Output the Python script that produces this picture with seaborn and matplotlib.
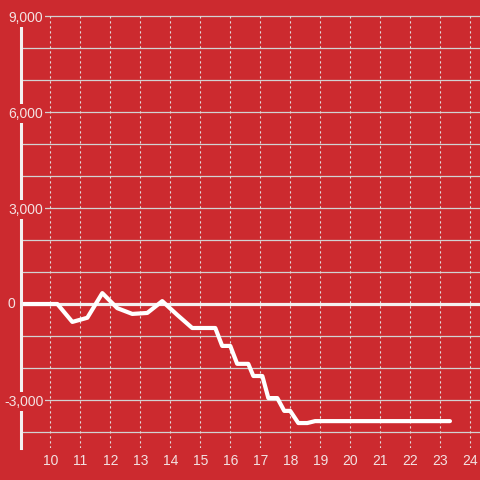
import matplotlib
matplotlib.use("Agg")
import matplotlib.pyplot as plt
import pandas as pd
import seaborn as sns

# values
x_vals = [9.0, 10.23, 10.73, 11.23, 11.73, 12.23, 12.73, 13.23, 13.73, 14.23,
          14.73, 15.5, 15.73, 16.0, 16.23, 16.6, 16.77, 17.07, 17.27, 17.57,
          17.8, 18.0, 18.27, 18.57, 18.83, 23.33]
y_vals = [0, 0, -560, -430, 340, -130, -310, -280, 90, -340,
          -750, -750, -1310, -1310, -1870, -1870, -2250, -2250, -2940, -2940,
          -3340, -3340, -3720, -3720, -3660, -3660]
x_ticks = list(range(10, 25))
y_ticks = [-3000, 0, 3000, 6000, 9000]
y_grid = list(range(-4000, 10000, 1000))

bg = "#cc2a2f"
fg = "#f3e2e2"

df = pd.DataFrame({"x": x_vals, "y": y_vals})

sns.set_style("white")
plt.rcParams["font.family"] = ["Liberation Sans", "DejaVu Sans"]

fig = plt.figure(figsize=(4.8, 4.8), dpi=100, facecolor=bg)
ax = fig.add_axes([20.5 / 480, 32 / 480, 459.5 / 480, 448 / 480])
ax.set_facecolor(bg)

for y in y_grid:
    ax.axhline(y, color="#d2d2d2", linewidth=0.9, zorder=1)
ax.vlines(x_ticks, -4500, 9000, colors="#e2dcdc", linewidth=0.8,
          linestyles=(0, (2, 2.5)), zorder=1.2)
ax.axhline(0, color="#f4f0f0", linewidth=2.3, zorder=1.8)

sns.lineplot(data=df, x="x", y="y", color="white", linewidth=3.0,
             ax=ax, zorder=2)

ax.set_xlim(9.0, 24.333)
ax.set_ylim(-4500, 9500)
ax.set_xticks(x_ticks)
ax.set_yticks(y_ticks)
# the zero label sits left of the axis line, drawn separately below
ax.set_yticklabels(["" if v == 0 else f"{v:,}" for v in y_ticks])
ax.set_xlabel("")
ax.set_ylabel("")

for s in ["top", "right", "bottom"]:
    ax.spines[s].set_visible(False)
ax.spines["left"].set_color("#f4f0f0")
ax.spines["left"].set_linewidth(2.2)
ax.spines["left"].set_bounds(-4500, 8750)

ax.tick_params(axis="x", length=0, pad=4, labelsize=10, labelcolor=fg)
ax.tick_params(axis="y", length=0, pad=-16.5, labelsize=10, labelcolor=fg)
for lab in ax.get_yticklabels():
    lab.set_bbox(dict(facecolor=bg, edgecolor="none", pad=1.5))
ax.yaxis.set_zorder(3)

ax.annotate("0", xy=(0, 0), xycoords=("axes fraction", "data"),
            xytext=(-3.8, 0), textcoords="offset points",
            ha="right", va="center", fontsize=10, color=fg,
            annotation_clip=False, zorder=3)

fig.savefig("out.png", dpi=100, facecolor=bg)
